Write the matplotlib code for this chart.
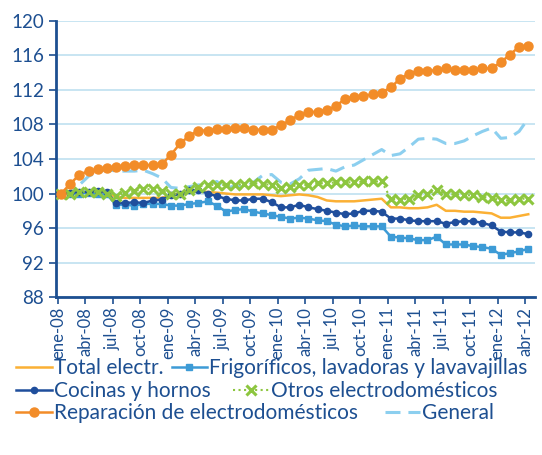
import numpy as np
import matplotlib
matplotlib.use("Agg")
import matplotlib.pyplot as plt

plt.rcParams['font.family'] = ['Lato', 'DejaVu Sans']

# monthly series ene-08 .. abr-12
months = ["ene", "feb", "mar", "abr", "may", "jun", "jul", "ago", "sep", "oct", "nov", "dic"]
labels = [f"{months[i % 12]}-{8 + i // 12:02d}" for i in range(52)]

total_electr = [100.0, 100.1, 100.1, 100.1, 100.1, 100.1, 99.6, 99.5, 99.5, 99.5, 99.5, 99.5,
                99.8, 100.0, 100.2, 100.2, 100.2, 100.1, 100.0, 99.9, 99.9, 99.9, 99.9, 99.8,
                99.7, 99.8, 99.9, 99.8, 99.6, 99.2, 99.1, 99.1, 99.1, 99.2, 99.3, 99.4,
                98.4, 98.4, 98.3, 98.3, 98.4, 98.7, 98.0, 98.0, 97.9, 97.9, 97.8, 97.7,
                97.2, 97.2, 97.4, 97.6]
frigorificos = [100.0, 100.0, 100.0, 100.1, 99.9, 99.9, 98.7, 98.7, 98.6, 98.8, 98.8, 98.8,
                98.6, 98.6, 98.8, 98.9, 99.1, 98.6, 97.9, 98.1, 98.2, 97.9, 97.7, 97.5,
                97.3, 97.1, 97.2, 97.1, 96.9, 96.8, 96.4, 96.2, 96.3, 96.2, 96.2, 96.2,
                95.0, 94.9, 94.8, 94.6, 94.6, 95.0, 94.1, 94.1, 94.1, 93.9, 93.8, 93.6,
                92.9, 93.1, 93.3, 93.6]
cocinas = [100.0, 100.1, 100.2, 100.2, 100.3, 100.2, 98.9, 98.9, 99.0, 98.9, 99.2, 99.3,
           99.8, 99.9, 100.4, 100.4, 100.0, 99.7, 99.4, 99.2, 99.2, 99.4, 99.4, 99.0,
           98.4, 98.4, 98.7, 98.4, 98.2, 98.0, 97.8, 97.6, 97.7, 98.0, 98.0, 97.9,
           97.1, 97.1, 96.9, 96.8, 96.8, 96.8, 96.5, 96.7, 96.8, 96.8, 96.6, 96.3,
           95.6, 95.5, 95.5, 95.3]
otros = [100.0, 99.9, 100.2, 100.2, 100.2, 100.0, 99.7, 100.1, 100.3, 100.5, 100.5, 100.3,
         99.9, 99.9, 100.4, 100.8, 101.0, 101.0, 101.0, 101.0, 101.1, 101.2, 101.1, 101.0,
         100.7, 100.8, 101.0, 101.0, 101.2, 101.2, 101.3, 101.3, 101.3, 101.4, 101.4, 101.4,
         99.4, 99.3, 99.4, 99.8, 100.0, 100.4, 99.9, 99.9, 99.8, 99.8, 99.6, 99.5,
         99.2, 99.2, 99.4, 99.4]
reparacion = [100.0, 101.1, 102.2, 102.6, 102.8, 103.0, 103.1, 103.2, 103.3, 103.3, 103.3, 103.4,
              104.5, 105.8, 106.7, 107.3, 107.3, 107.45, 107.45, 107.6, 107.6, 107.4, 107.4, 107.4,
              107.9, 108.5, 109.1, 109.4, 109.5, 109.7, 110.1, 111.0, 111.2, 111.3, 111.5, 111.7,
              112.3, 113.3, 113.9, 114.2, 114.2, 114.3, 114.5, 114.3, 114.3, 114.3, 114.5, 114.5,
              115.2, 116.1, 117.0, 117.1]
general = [100.0, 100.2, 101.0, 102.0, 102.5, 102.8, 102.6, 102.6, 102.6, 102.7, 102.3, 101.8,
           100.7, 100.6, 100.8, 101.0, 101.0, 101.4, 100.6, 100.9, 100.7, 101.3, 102.1, 102.2,
           101.3, 101.1, 101.7, 102.7, 102.8, 102.9, 102.6, 103.1, 103.3, 103.9, 104.5, 105.1,
           104.4, 104.6, 105.4, 106.3, 106.4, 106.3, 105.8, 105.8, 106.1, 106.7, 107.2, 107.6,
           106.4, 106.5, 107.2, 108.7]

navy = "#1D4F91"
x = np.arange(len(labels))

fig = plt.figure(figsize=(5.42, 4.55), dpi=100)
ax = fig.add_axes([0.103, 0.347, 0.884, 0.607])

l_gen, = ax.plot(x, general, color="#8CCFEF", lw=2.2, dashes=(4.9, 2.6), label="General", zorder=2)
l_tot, = ax.plot(x, total_electr, color="#FBB034", lw=1.8, label="Total electr.", zorder=3)
l_fri, = ax.plot(x, frigorificos, color="#3D9BD6", lw=1.8, marker="s", ms=4, label="Frigoríficos, lavadoras y lavavajillas", zorder=4)
l_coc, = ax.plot(x, cocinas, color="#1F4E9C", lw=1.8, marker="o", ms=4.5, label="Cocinas y hornos", zorder=5)
l_otr, = ax.plot(x, otros, color="#8DC63F", lw=1.5, ls=":", marker="x", ms=7, mew=2.2, label="Otros electrodomésticos", zorder=6)
l_rep, = ax.plot(x, reparacion, color="#F28C28", lw=1.8, marker="o", ms=6.5, label="Reparación de electrodomésticos", zorder=7)

ax.set_ylim(88, 120)
ax.set_yticks(np.arange(88, 121, 4))
ax.set_xlim(-0.57, 51.73)
tick_idx = np.arange(0, 52, 3)
ax.set_xticks(tick_idx - 0.35)
ax.set_xticklabels([labels[i] for i in tick_idx], rotation=90)

ax.grid(axis="y", color="#BFE0F0", lw=1.2)
ax.set_axisbelow(True)
for s in ["top", "right"]:
    ax.spines[s].set_visible(False)
for s in ["left", "bottom"]:
    ax.spines[s].set_color(navy)
    ax.spines[s].set_linewidth(2)
ax.tick_params(colors=navy, labelsize=13.5, length=5, width=1.2)
ax.tick_params(axis="x", labelsize=12, pad=2)

# legend rows laid out like the original (flowing rows)
rows = [(l_tot, l_fri), (l_coc, l_otr), (l_rep, l_gen)]
row_y = [0.191, 0.141, 0.092]
row_sp = [0.4, 1.1, 1.3]
for (h1, h2), yy, sp in zip(rows, row_y, row_sp):
    leg = fig.legend([h1, h2], [h1.get_label(), h2.get_label()], loc="center left",
                     bbox_to_anchor=(0.03, yy), ncol=2, frameon=False, fontsize=15,
                     handlelength=1.7, handletextpad=0.1, columnspacing=sp,
                     borderpad=0, borderaxespad=0, numpoints=1)
    for t in leg.get_texts():
        t.set_color(navy)

fig.savefig("out.png", dpi=100)
